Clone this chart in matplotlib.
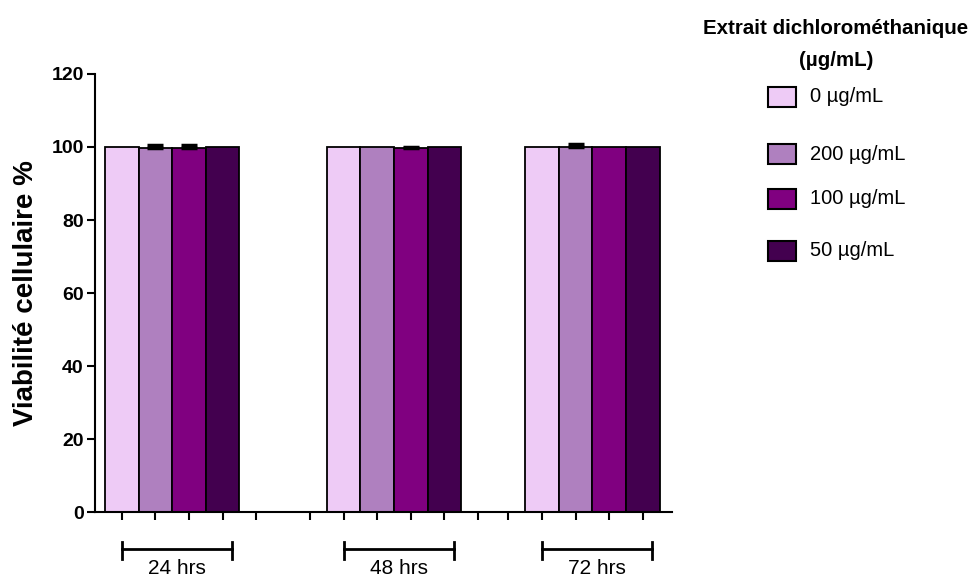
import numpy as np
import matplotlib; matplotlib.use("Agg")
import matplotlib.pyplot as plt
from matplotlib.patches import Rectangle

plt.rcParams['font.family'] = ['Liberation Sans', 'DejaVu Sans']

times = ["24 hrs", "48 hrs", "72 hrs"]
doses = ["0 µg/mL", "200 µg/mL", "100 µg/mL", "50 µg/mL"]
colors = ["#EECBF6", "#AF80BF", "#800080", "#43004F"]
viab_24 = [100.0, 99.7, 99.8, 100.0]
viab_48 = [100.0, 100.0, 99.7, 100.0]
viab_72 = [100.0, 100.0, 100.0, 100.0]
sd_24 = [0.0, 0.9, 0.8, 0.0]
sd_48 = [0.0, 0.0, 0.3, 0.0]
sd_72 = [0.0, 0.7, 0.0, 0.0]
viab = [viab_24, viab_48, viab_72]
sd = [sd_24, sd_48, sd_72]

# group start positions on the x scale, plus the blank ticks between groups
starts = [0.0, 6.6, 12.5]
blank_ticks = [4.0, 5.6, 10.6, 11.5]

fig = plt.figure(figsize=(9.73, 5.79), dpi=100)
ax = fig.add_axes([0.0976, 0.1157, 0.5930, 0.7565])

for g, s in enumerate(starts):
    for i in range(len(doses)):
        x = s + i
        ax.bar(x, viab[g][i], width=1.0, color=colors[i], edgecolor="black",
               linewidth=1.3, zorder=2)
        if sd[g][i] > 0:
            ax.errorbar(x, viab[g][i], yerr=[[0], [sd[g][i]]], fmt="none",
                        ecolor="black", elinewidth=1.5, capsize=5.5,
                        capthick=2.5, zorder=3)

xt = sorted([s + i for s in starts for i in range(4)] + blank_ticks)
ax.set_xticks(xt)
ax.set_xticklabels([])
ax.set_xlim(-0.8, 16.37)
ax.set_ylim(0, 120)
ax.set_yticks(range(0, 121, 20))
ax.tick_params(axis="both", direction="out", length=6, width=1.5)
ax.tick_params(axis="y", labelsize=14, pad=2)
for lab in ax.get_yticklabels():
    lab.set_fontweight("bold")
for sp in ["top", "right"]:
    ax.spines[sp].set_visible(False)
for sp in ["left", "bottom"]:
    ax.spines[sp].set_linewidth(1.5)

ax.set_ylabel("Viabilité cellulaire %", fontsize=20, fontweight="bold")
ax.yaxis.set_label_coords(-0.097, 0.5)

# group brackets under the x axis
tr = ax.get_xaxis_transform()
for s, t in zip(starts, times):
    x0, x1 = s, s + 3.27
    ax.plot([x0, x1], [-0.0845, -0.0845], color="black", lw=2, transform=tr, clip_on=False)
    for xx in (x0, x1):
        ax.plot([xx, xx], [-0.068, -0.107], color="black", lw=2, transform=tr, clip_on=False)
    ax.text((x0 + x1) / 2, -0.128, t, transform=tr, ha="center", va="center", fontsize=15)

# legend drawn by hand in figure pixels
W, H = 973, 579
fig.text(836 / W, 1 - 28 / H, "Extrait dichlorométhanique", ha="center", va="center",
         fontsize=14.8, fontweight="bold")
fig.text(836 / W, 1 - 60 / H, "(µg/mL)", ha="center", va="center",
         fontsize=14.8, fontweight="bold")
entry_y = [97, 154, 199, 251]
for c, lab, yy in zip(colors, doses, entry_y):
    fig.patches.append(Rectangle((768 / W, 1 - (yy + 10) / H), 28 / W, 20 / H,
                                 facecolor=c, edgecolor="black", linewidth=1.5,
                                 transform=fig.transFigure))
    fig.text(810 / W, 1 - yy / H, lab, ha="left", va="center", fontsize=14.5)

fig.savefig("out.png", dpi=100)
